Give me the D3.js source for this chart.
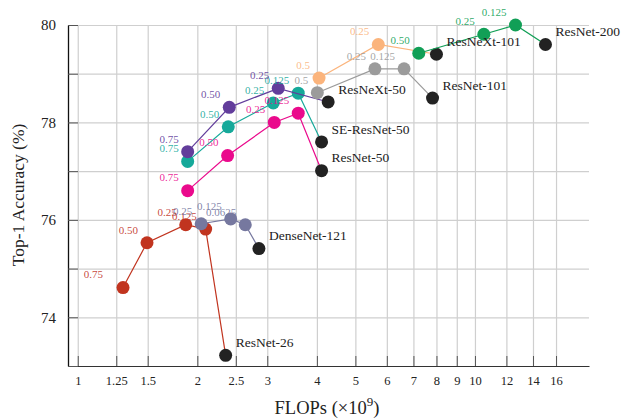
<!DOCTYPE html>
<html>
<head>
<meta charset="utf-8">
<script src="https://cdn.jsdelivr.net/npm/d3@7"></script>
<style>
  body { margin: 0; background: #fff; }
  svg { font-family: "Liberation Serif", "Times New Roman", serif; }
</style>
</head>
<body>
<svg id="chart"></svg>
<script>
// tick values
const xTicks = [1, 1.25, 1.5, 2, 2.5, 3, 4, 5, 6, 7, 8, 9, 10, 12, 14, 16];
const yTicks = [73, 74, 75, 76, 77, 78, 79, 80];
const yLabels = [74, 76, 78, 80];

// model names (baseline in black)
const models = ["ResNet-26", "DenseNet-121", "ResNet-50", "SE-ResNet-50",
                "ResNeXt-50", "ResNet-101", "ResNeXt-101", "ResNet-200"];
const baseFlops = [2.357, 2.858, 4.11, 4.11, 4.27, 7.82, 8.0, 15.05];
const baseAcc   = [73.22, 75.41, 77.01, 77.60, 78.42, 78.50, 79.40, 79.60];

// reduced variants, one array per model
const ratios = [
  ["0.75", "0.50", "0.25", "0.125"],
  ["0.25", "0.125", "0.0625"],
  ["0.75", "0.50", "0.25", "0.125"],
  ["0.75", "0.50", "0.25", "0.125"],
  ["0.75", "0.50", "0.25"],
  ["0.5", "0.25", "0.125"],
  ["0.5", "0.25"],
  ["0.50", "0.25", "0.125"]
];
const flops = [
  [1.30, 1.494, 1.87, 2.099],
  [2.045, 2.427, 2.641],
  [1.891, 2.384, 3.124, 3.59],
  [1.891, 2.393, 3.106, 3.59],
  [1.891, 2.407, 3.197],
  [4.01, 5.60, 6.63],
  [4.05, 5.71],
  [7.22, 10.53, 12.65]
];
const acc = [
  [74.61, 75.53, 75.90, 75.81],
  [75.92, 76.02, 75.90],
  [76.60, 77.32, 78.00, 78.19],
  [77.20, 77.91, 78.40, 78.60],
  [77.40, 78.31, 78.70],
  [78.61, 79.10, 79.10],
  [78.91, 79.60],
  [79.42, 79.81, 80.00]
];

const colors = ["#c1341f", "#76789f", "#ea0a8c", "#16a99a",
                "#623d9b", "#9b9b9b", "#fbb47c", "#119f56"];

// chart size
var margin = { top: 25, right: 32, bottom: 52, left: 68 };
var width = 621 - margin.left - margin.right;
var height = 418 - margin.top - margin.bottom;

const svg = d3.select("#chart")
    .attr("width", 621)
    .attr("height", 418);

const g = svg.append("g")
    .attr("transform", `translate(${margin.left},${margin.top})`);

const x = d3.scaleLog()
    .domain([0.945, 19.37])
    .range([0, width]);

const y = d3.scaleLinear()
    .domain([73, 80])
    .range([height, 0]);

// grid
g.append("g")
  .attr("transform", `translate(0,${height})`)
  .call(d3.axisBottom(x).tickValues(xTicks).tickSize(-height).tickFormat(""))
  .call(a => a.select(".domain").remove())
  .selectAll("line").attr("stroke", "#cfcfcf").attr("stroke-width", 1.2);

g.append("g")
  .call(d3.axisLeft(y).tickValues(yTicks).tickSize(-width).tickFormat(""))
  .call(a => a.select(".domain").remove())
  .selectAll("line").attr("stroke", "#cfcfcf").attr("stroke-width", 1.2);

// axes with inward ticks
const xAxis = g.append("g")
  .attr("transform", `translate(0,${height})`)
  .call(d3.axisBottom(x).tickValues(xTicks).tickSizeInner(-10).tickSizeOuter(0)
        .tickPadding(10).tickFormat(d => d));
xAxis.selectAll("text").attr("font-size", 12.5).attr("fill", "#222")
  .attr("font-family", "Liberation Serif");
xAxis.selectAll("line").attr("stroke", "#555");
xAxis.select(".domain").attr("stroke", "#333").attr("stroke-width", 1.2);

const yAxis = g.append("g")
  .call(d3.axisLeft(y).tickValues(yTicks).tickSizeInner(-10).tickSizeOuter(0)
        .tickPadding(12).tickFormat(d => yLabels.includes(d) ? d : ""));
yAxis.selectAll("text").attr("font-size", 15).attr("fill", "#222")
  .attr("font-family", "Liberation Serif");
yAxis.selectAll("line").attr("stroke", "#555");
yAxis.select(".domain").attr("stroke", "#111").attr("stroke-width", 1.3);

// series
const line = d3.line().x(d => x(d[0])).y(d => y(d[1]));

models.forEach((m, i) => {
  const pts = flops[i].map((f, j) => [f, acc[i][j]]);
  pts.push([baseFlops[i], baseAcc[i]]);

  g.append("path")
    .datum(pts)
    .attr("d", line)
    .attr("fill", "none")
    .attr("stroke", colors[i])
    .attr("stroke-width", 1.2);

  g.selectAll(null)
    .data(pts.slice(0, -1))
    .enter()
    .append("circle")
    .attr("cx", d => x(d[0]))
    .attr("cy", d => y(d[1]))
    .attr("r", 6.5)
    .attr("fill", colors[i]);

  g.append("circle")
    .attr("cx", x(baseFlops[i]))
    .attr("cy", y(baseAcc[i]))
    .attr("r", 6.5)
    .attr("fill", "#222");
});

// ratio labels
models.forEach((m, i) => {
  g.selectAll(null)
    .data(ratios[i])
    .enter()
    .append("text")
    .attr("x", (d, j) => x(flops[i][j]) - (i === 0 && j === 0 ? 20 : 9))
    .attr("y", (d, j) => y(acc[i][j]) - 13)
    .attr("dy", "0.35em")
    .attr("text-anchor", "end")
    .attr("font-size", 11)
    .attr("fill", colors[i])
    .attr("fill-opacity", 0.9)
    .text(d => d);
});

// model labels
g.selectAll(".model-label")
  .data(models)
  .enter()
  .append("text")
  .attr("class", "model-label")
  .attr("x", (d, i) => x(baseFlops[i]) + 10)
  .attr("y", (d, i) => y(baseAcc[i]) - 13)
  .attr("dy", "0.35em")
  .attr("font-size", 13.5)
  .attr("fill", "#222")
  .text(d => d);

// axis titles
const xTitle = svg.append("text")
  .attr("x", 327)
  .attr("y", 414)
  .attr("text-anchor", "middle")
  .attr("font-size", 18.5)
  .attr("fill", "#222");
xTitle.append("tspan").text("FLOPs (×10");
xTitle.append("tspan").attr("font-size", 13).attr("dy", -8).text("9");
xTitle.append("tspan").attr("dy", 8).text(")");

svg.append("text")
  .attr("transform", "rotate(-90)")
  .attr("x", -195)
  .attr("y", 24)
  .attr("text-anchor", "middle")
  .attr("font-size", 17.5)
  .attr("fill", "#222")
  .text("Top-1 Accuracy (%)");
</script>
</body>
</html>
